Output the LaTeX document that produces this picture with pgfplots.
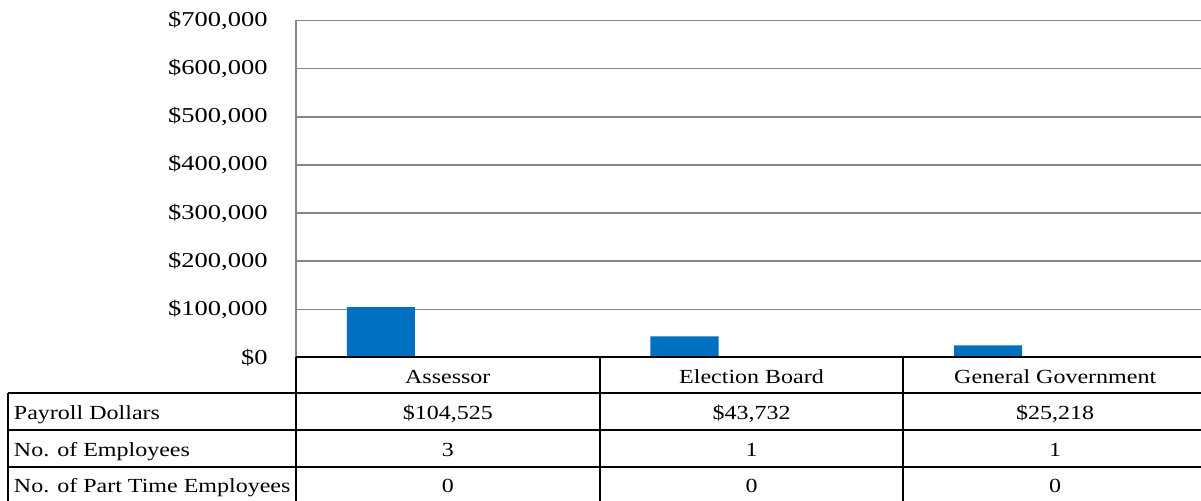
\documentclass[border=0pt]{standalone}
\usepackage{pgfplots}
\pgfplotsset{compat=1.18}
\usepackage{fontspec}
\setmainfont{Liberation Serif}
\usepackage{graphicx}
\definecolor{barblue}{HTML}{0070C0}
\definecolor{gridgray}{HTML}{868686}
\newcommand{\tx}[1]{\scalebox{1.2}[1]{#1}}
\begin{document}
\begin{tikzpicture}[x=1pt,y=1pt]
\useasboundingbox (-148,-71.75) rectangle (452.5,178.75);
\clip (-148,-71.75) rectangle (452.5,178.75);
\begin{axis}[
  at={(0pt,0pt)}, anchor=south west,
  scale only axis, width=455.5pt, height=168.5pt,
  xmin=0, xmax=3, ymin=0, ymax=700000,
  axis x line=none, axis y line=left,
  y axis line style={-, draw=gridgray, line width=0.75pt},
  ytick={0,100000,200000,300000,400000,500000,600000,700000},
  ymajorgrids, grid style={gridgray, line width=0.75pt},
  major tick length=0pt,
  scaled y ticks=false,
  yticklabel style={inner sep=0pt, xshift=-14pt, font=\fontsize{10.6}{12}\selectfont},
  yticklabel={\scalebox{1.25}[1]{\$\pgfmathprintnumber[fixed, precision=0, 1000 sep={,}, assume math mode=true]{\tick}}},
  xtick=\empty,
  clip=false,
]
\addplot[ybar, bar width=0.224, bar shift=-0.2206, fill=barblue, draw=none]
  coordinates {(0.5,104525) (1.5,43732) (2.5,25218)};
\end{axis}
\begin{scope}[line width=1pt, font=\fontsize{10}{12}\selectfont]
\draw (0,0) -- (458,0);
\draw (-144,-17.75) -- (458,-17.75);
\draw (-144,-36.25) -- (458,-36.25);
\draw (-144,-54.75) -- (458,-54.75);
\draw (-144,-73) -- (458,-73);
\draw (0,0) -- (0,-73);
\draw (151.8,0) -- (151.8,-73);
\draw (303.7,0) -- (303.7,-73);
\draw (455.5,0) -- (455.5,-73);
\draw (-144,-17.75) -- (-144,-73);
\node[anchor=base, inner sep=0pt] at (75.9,-13.25) {\tx{Assessor}};
\node[anchor=base, inner sep=0pt] at (227.75,-13.25) {\tx{Election Board}};
\node[anchor=base, inner sep=0pt] at (379.6,-13.25) {\tx{General Government}};
\node[anchor=base west, inner sep=0pt] at (-141.5,-31.25) {\tx{Payroll Dollars}};
\node[anchor=base west, inner sep=0pt] at (-141.5,-49.6) {\tx{No. of Employees}};
\node[anchor=base west, inner sep=0pt] at (-141.5,-67.75) {\tx{No. of Part Time Employees}};
\node[anchor=base, inner sep=0pt] at (75.9,-31.25) {\tx{\$104,525}};
\node[anchor=base, inner sep=0pt] at (227.75,-31.25) {\tx{\$43,732}};
\node[anchor=base, inner sep=0pt] at (379.6,-31.25) {\tx{\$25,218}};
\node[anchor=base, inner sep=0pt] at (75.9,-49.6) {\tx{3}};
\node[anchor=base, inner sep=0pt] at (227.75,-49.6) {\tx{1}};
\node[anchor=base, inner sep=0pt] at (379.6,-49.6) {\tx{1}};
\node[anchor=base, inner sep=0pt] at (75.9,-67.75) {\tx{0}};
\node[anchor=base, inner sep=0pt] at (227.75,-67.75) {\tx{0}};
\node[anchor=base, inner sep=0pt] at (379.6,-67.75) {\tx{0}};
\end{scope}
\end{tikzpicture}
\end{document}
